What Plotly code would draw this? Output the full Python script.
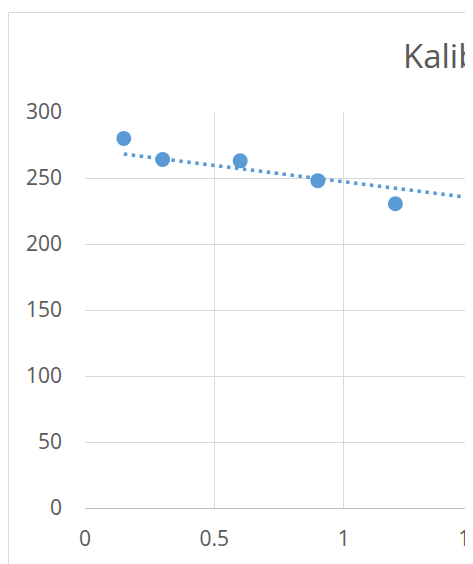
import plotly.graph_objects as go

# Data
x_vals = [0.15, 0.3, 0.6, 0.9, 1.2]
y_vals = [280, 264, 263, 248, 230.5]

# Linear trendline coefficients (as displayed)
trend_slope = -24.7
trend_intercept = 271.9
trend_x = [0.15, 2.0]

title_text = "Kalibrační křivka"

W, H = 465, 556
ML, MR, MT, MB = 77, 0, 104, 56
pw = W - ML - MR
ph = H - MT - MB

def px_to_paper_x(px):
    return (px - ML) / pw

def px_to_paper_y(py):
    return 1 - (py - MT) / ph

trend_y = [trend_intercept + trend_slope * v for v in trend_x]

fig = go.Figure()
fig.add_trace(go.Scatter(
    x=trend_x, y=trend_y, mode="lines",
    line=dict(color="#5B9BD5", width=3.5, dash="3.5px,4.5px"),
    showlegend=False, hoverinfo="skip",
))
fig.add_trace(go.Scatter(
    x=x_vals, y=y_vals, mode="markers",
    marker=dict(color="#5B9BD5", size=15, line=dict(width=0)),
    showlegend=False, cliponaxis=False,
))

tick_font = dict(family="Open Sans, sans-serif", size=21, color="#595959")

fig.update_layout(
    width=W, height=H,
    margin=dict(l=ML, r=MR, t=MT, b=MB, pad=0, autoexpand=False),
    paper_bgcolor="white", plot_bgcolor="white",
    xaxis=dict(
        range=[0, 1.5], dtick=0.5, tick0=0,
        showgrid=True, gridcolor="#d9d9d9", gridwidth=1,
        zeroline=False, showline=True, linecolor="#bfbfbf", linewidth=1,
        ticks="", tickfont=tick_font, ticklabelstandoff=12,
        ticklabeloverflow="allow", automargin=False,
        fixedrange=True,
    ),
    yaxis=dict(
        range=[0, 300], dtick=50, tick0=0,
        showgrid=True, gridcolor="#d9d9d9", gridwidth=1,
        zeroline=False, showline=False,
        ticks="", tickfont=tick_font, ticklabelstandoff=22,
        automargin=False,
        fixedrange=True,
    ),
    shapes=[dict(
        type="rect", xref="paper", yref="paper", layer="below",
        x0=px_to_paper_x(0.5), x1=px_to_paper_x(W + 50),
        y0=px_to_paper_y(H + 50), y1=px_to_paper_y(4.5),
        line=dict(color="#d9d9d9", width=1), fillcolor="rgba(0,0,0,0)",
    )],
    annotations=[dict(
        text=title_text, xref="paper", yref="paper",
        x=px_to_paper_x(393), y=px_to_paper_y(48),
        xanchor="left", yanchor="middle", showarrow=False,
        font=dict(family="Open Sans, sans-serif", size=33, color="#595959"),
    )],
)

fig.write_html("out.html")
